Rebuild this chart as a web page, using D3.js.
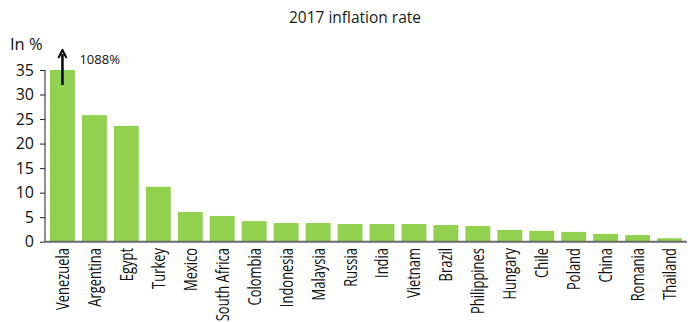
<!DOCTYPE html>
<html><head><meta charset="utf-8">
<script src="https://cdn.jsdelivr.net/npm/d3@7"></script>
<style>body{margin:0;background:#fff}svg{display:block}</style>
</head><body>
<svg id="c" width="694" height="322"></svg>
<script>
const countries = ["Venezuela","Argentina","Egypt","Turkey","Mexico","South Africa","Colombia","Indonesia","Malaysia","Russia","India","Vietnam","Brazil","Philippines","Hungary","Chile","Poland","China","Romania","Thailand"];
const inflation = [35,25.8,23.6,11.2,6.05,5.25,4.2,3.8,3.8,3.6,3.6,3.6,3.4,3.2,2.4,2.2,2.0,1.6,1.35,0.7];
const yTicks = [0,5,10,15,20,25,30,35];
const title = "2017 inflation rate";
const yLabel = "In %";
const capLabel = "1088%";

const font = "'Open Sans',sans-serif";
const svg = d3.select("#c");
const x = d3.scaleBand().domain(countries).range([45,687]).paddingInner(0.22).paddingOuter(0.156);
const y = d3.scaleLinear().domain([0,35]).range([241.7,70]);

svg.append("text").attr("x",355).attr("y",23).attr("text-anchor","middle")
  .style("font-family",font).style("font-size","15.5px").style("font-weight","500").attr("fill","#1a1a1a").text(title);
svg.append("text").attr("x",10).attr("y",50)
  .style("font-family",font).style("font-size","16.5px").attr("fill","#111").text(yLabel);

svg.selectAll("rect.bar").data(countries).join("rect").attr("class","bar")
  .attr("x",d=>x(d)).attr("width",x.bandwidth())
  .attr("y",(d,i)=>y(inflation[i])).attr("height",(d,i)=>y(0)-y(inflation[i]))
  .attr("fill","#92d050");

const ya = svg.append("g").attr("transform","translate(45,0)")
  .call(d3.axisLeft(y).tickValues(yTicks).tickSize(5).tickPadding(6));
ya.select(".domain").attr("stroke","#222").attr("d",`M0,${y(35)}V${y(0)}`);
ya.selectAll("line").attr("stroke","#222");
ya.selectAll("text").style("font-family",font).style("font-size","16px").attr("fill","#111");

svg.append("line").attr("x1",45).attr("x2",687).attr("y1",y(0)).attr("y2",y(0))
  .attr("stroke","#6b6b6b").attr("stroke-width",2);

const xa = svg.append("g");
const labels = xa.selectAll("text").data(countries).join("text")
  .attr("text-anchor","end")
  .style("font-family",font).style("font-size","18px").attr("fill","#111").text(d=>d);
const refLen = labels.filter(d=>d==="Venezuela").node().getComputedTextLength();
const sx = 62/refLen;
labels.attr("transform",d=>`translate(${x(d)+x.bandwidth()/2+6.5},248) rotate(-90) scale(${sx},1)`);

// arrow for capped Venezuela
const ax = x("Venezuela")+x.bandwidth()/2;
svg.append("defs").append("marker").attr("id","ah").attr("viewBox","0 0 10 10")
  .attr("refX",5).attr("refY",5).attr("markerWidth",4).attr("markerHeight",4).attr("orient","auto")
  .append("path").attr("d","M1,1L9,5L1,9").attr("fill","none").attr("stroke","#000").attr("stroke-width",2);
svg.append("line").attr("x1",ax).attr("x2",ax).attr("y1",y(inflation[0])+15).attr("y2",y(inflation[0])-16)
  .attr("stroke","#000").attr("stroke-width",2.5).attr("marker-end","url(#ah)");
svg.append("text").attr("x",ax+17).attr("y",y(inflation[0])-6)
  .style("font-family",font).style("font-size","13px").attr("fill","#111").text(capLabel);
</script>
</body></html>
